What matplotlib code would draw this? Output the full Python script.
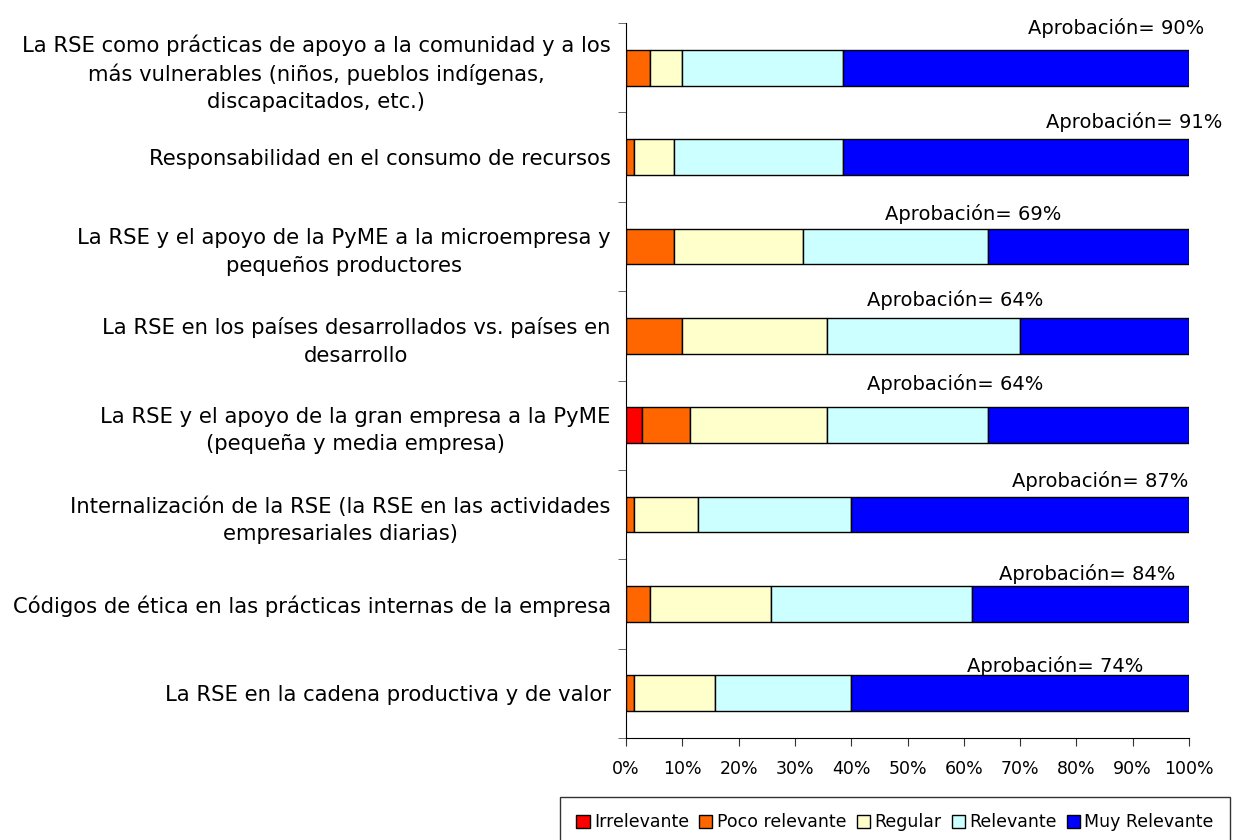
import matplotlib.pyplot as plt
import numpy as np

plt.rcParams['font.family'] = ['DejaVu Sans']

categories = [
    'La RSE como prácticas de apoyo a la comunidad y a los\nmás vulnerables (niños, pueblos indígenas,\ndiscapacitados, etc.)',
    'Responsabilidad en el consumo de recursos',
    'La RSE y el apoyo de la PyME a la microempresa y\npequeños productores',
    'La RSE en los países desarrollados vs. países en\ndesarrollo',
    'La RSE y el apoyo de la gran empresa a la PyME\n(pequeña y media empresa)',
    'Internalización de la RSE (la RSE en las actividades\nempresariales diarias)',
    'Códigos de ética en las prácticas internas de la empresa',
    'La RSE en la cadena productiva y de valor',
]

series_names = ['Irrelevante', 'Poco relevante', 'Regular', 'Relevante', 'Muy Relevante']

# shares in percent, one list per series (top bar first)
irrelevante = [0.0, 0.0, 0.0, 0.0, 2.86, 0.0, 0.0, 0.0]
poco_relevante = [4.29, 1.43, 8.57, 10.0, 8.57, 1.43, 4.29, 1.43]
regular = [5.71, 7.14, 22.86, 25.71, 24.29, 11.43, 21.43, 14.29]
relevante = [28.57, 30.0, 32.86, 34.29, 28.57, 27.14, 35.71, 24.29]
muy_relevante = [61.43, 61.43, 35.71, 30.0, 35.71, 60.0, 38.57, 60.0]

approval_labels = ['Aprobación= 90%', 'Aprobación= 91%', 'Aprobación= 69%', 'Aprobación= 64%',
                   'Aprobación= 64%', 'Aprobación= 87%', 'Aprobación= 84%', 'Aprobación= 74%']

# where the approval labels sit (x in %, y offset above the bar centre)
label_x = [87.0, 90.2, 61.6, 58.5, 58.5, 84.2, 82.0, 76.2]
label_dy = [0.44, 0.39, 0.36, 0.40, 0.46, 0.37, 0.34, 0.31]

colors = ['#FF0000', '#FF6600', '#FFFFCC', '#CCFFFF', '#0000FF']

fig = plt.figure(figsize=(12.38, 8.4), dpi=100)
ax = fig.add_axes([626 / 1238, 1 - 738 / 840, 563 / 1238, 715 / 840])

y = np.arange(len(categories))
left = np.zeros(len(categories))
for name, vals, col in zip(series_names,
                           [irrelevante, poco_relevante, regular, relevante, muy_relevante],
                           colors):
    vals = np.array(vals)
    ax.barh(y, vals, left=left, height=0.4, color=col, edgecolor='black',
            linewidth=1.0, label=name)
    left += vals

for i, txt in enumerate(approval_labels):
    ax.text(label_x[i], y[i] - label_dy[i], txt, ha='center', va='center', fontsize=14)

ax.set_xlim(0, 100)
ax.set_ylim(len(categories) - 0.5, -0.5)
ax.set_xticks(np.arange(0, 101, 10))
ax.set_xticklabels([f'{v}%' for v in range(0, 101, 10)], fontsize=12.5)
ax.tick_params(axis='x', direction='out', length=6, color='#333333', pad=10)

ax.set_yticks(y)
ax.set_yticklabels(categories, fontsize=15.2, multialignment='center', linespacing=1.45)
ax.tick_params(axis='y', which='major', length=0, pad=11)
ax.set_yticks(np.arange(-0.5, len(categories)), minor=True)
ax.tick_params(axis='y', which='minor', direction='out', length=6, color='#555555')

for side in ['top', 'right']:
    ax.spines[side].set_visible(False)
ax.spines['left'].set_color('black')
ax.spines['bottom'].set_color('black')

leg = fig.legend(loc='upper left', bbox_to_anchor=(560 / 1238, 1 - 797 / 840), ncol=5,
                 fontsize=12.5, frameon=True, fancybox=False, edgecolor='black',
                 handlelength=0.75, handleheight=0.75, handletextpad=0.25,
                 columnspacing=0.6, borderpad=0.95, borderaxespad=0)
leg.get_frame().set_linewidth(1.0)

plt.savefig('out.png', dpi=100)
